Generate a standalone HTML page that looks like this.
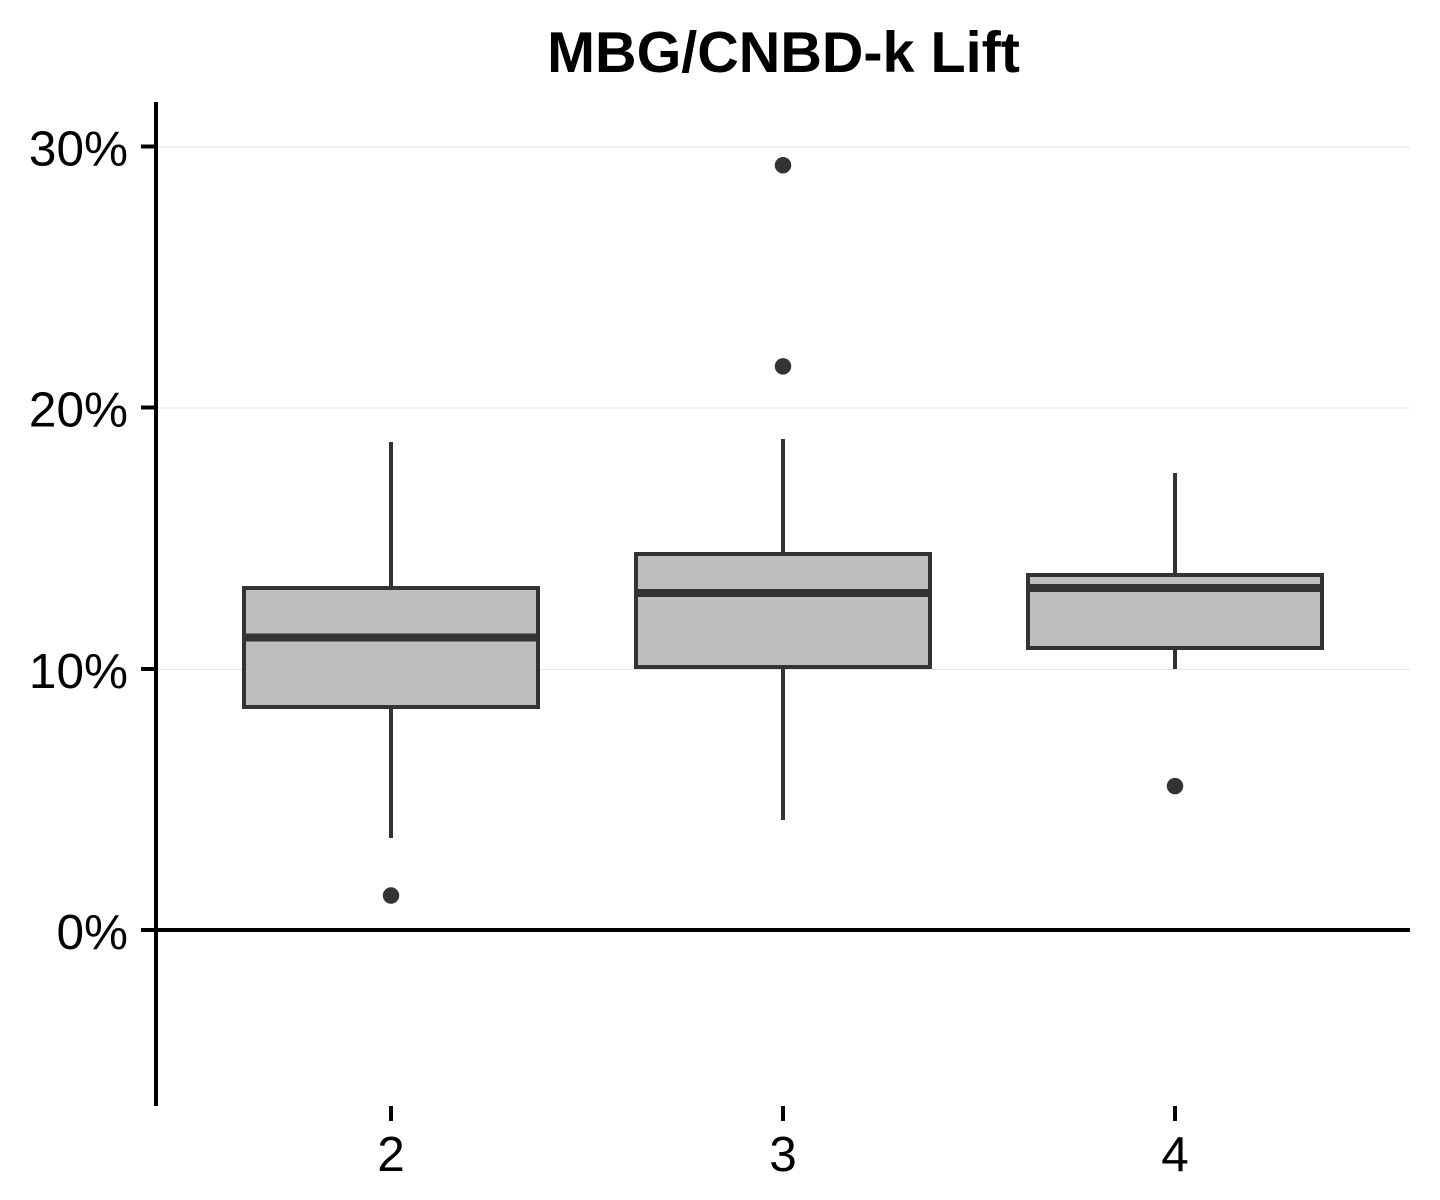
<!DOCTYPE html>
<html lang="en">
<head>
<meta charset="utf-8">
<title>MBG/CNBD-k Lift</title>
<style>
html,body{margin:0;padding:0;background:#fff;}
body{width:1440px;height:1200px;overflow:hidden;}
svg{display:block;font-family:"Liberation Sans",Arial,sans-serif;}
</style>
</head>
<body>
<svg id="chart" xmlns="http://www.w3.org/2000/svg" width="1440" height="1200" viewBox="0 0 1440 1200">
  <rect x="0" y="0" width="1440" height="1200" fill="#ffffff"/>
  <text x="783.5" y="72" font-size="57.5" font-weight="700" text-anchor="middle" fill="#000">MBG/CNBD-k Lift</text>
  <g id="grid"></g>
  <g id="marks"></g>
  <g id="axes"></g>
</svg>
<script>
const categories = ['2', '3', '4'];
const q1Values = [8.53, 10.07, 10.79];
const medianValues = [11.19, 12.9, 13.09];
const q3Values = [13.09, 14.39, 13.59];
const whiskerLowValues = [3.52, 4.21, 9.99];
const whiskerHighValues = [18.68, 18.79, 17.49];
const outlierValues = [[1.32], [29.28, 21.58], [5.51]];
const yTicks = [0, 10, 20, 30];
const yTickLabels = ['0%', '10%', '20%', '30%'];

const NS = 'http://www.w3.org/2000/svg';
const plotLeft = 156, plotRight = 1410, plotTop = 102, plotBottom = 1106;
const xFirst = 391, xStep = 392, boxHalf = 147;
function xScale(i) { return xFirst + i * xStep; }
function yScale(v) { return 930 - v * 26.12; }
function mk(parent, tag, attrs) {
  const el = document.createElementNS(NS, tag);
  for (const k in attrs) el.setAttribute(k, attrs[k]);
  parent.appendChild(el);
  return el;
}
const grid = document.getElementById('grid');
const marks = document.getElementById('marks');
const axes = document.getElementById('axes');
const boxColor = '#333333';
const crisp = 'crispEdges';

yTicks.forEach((t, i) => {
  if (t !== 0) {
    const g = mk(grid, 'line', {x1: plotLeft, x2: plotRight, y1: yScale(t) + 0.5, y2: yScale(t) + 0.5, stroke: '#e5e5e5', 'stroke-width': 1, 'shape-rendering': crisp});
    
    
  }
});

categories.forEach((c, i) => {
  const x = xScale(i);
  const group = mk(marks, 'g', {});
  
  

  const wu = mk(group, 'line', {x1: x, x2: x, y1: yScale(q3Values[i]), y2: yScale(whiskerHighValues[i]), stroke: boxColor, 'stroke-width': 4, 'shape-rendering': crisp});
  
  

  const wl = mk(group, 'line', {x1: x, x2: x, y1: yScale(q1Values[i]), y2: yScale(whiskerLowValues[i]), stroke: boxColor, 'stroke-width': 4, 'shape-rendering': crisp});
  
  

  const box = mk(group, 'rect', {x: x - boxHalf, y: yScale(q3Values[i]), width: boxHalf * 2, height: yScale(q1Values[i]) - yScale(q3Values[i]), fill: '#bebebe', stroke: boxColor, 'stroke-width': 4, 'shape-rendering': crisp});
  
  

  const med = mk(group, 'line', {x1: x - boxHalf, x2: x + boxHalf, y1: yScale(medianValues[i]), y2: yScale(medianValues[i]), stroke: boxColor, 'stroke-width': 8, 'shape-rendering': crisp});
  
  

  outlierValues[i].forEach((v) => {
    const p = mk(group, 'circle', {cx: x, cy: yScale(v), r: 8.25, fill: boxColor});
    
    
  });

  const tick = mk(axes, 'line', {x1: x, x2: x, y1: plotBottom, y2: plotBottom + 15, stroke: '#000', 'stroke-width': 4, 'shape-rendering': crisp});
  
  

  const lab = mk(axes, 'text', {x: x, y: 1171, 'font-size': 49.5, 'text-anchor': 'middle', fill: '#000'});
  lab.textContent = c;
  
  
});

const yAxis = mk(axes, 'line', {x1: plotLeft, x2: plotLeft, y1: plotTop, y2: plotBottom, stroke: '#000', 'stroke-width': 4, 'shape-rendering': crisp});



const zero = mk(axes, 'line', {x1: plotLeft, x2: plotRight, y1: yScale(0), y2: yScale(0), stroke: '#000', 'stroke-width': 4, 'shape-rendering': crisp});



yTicks.forEach((t, i) => {
  const tick = mk(axes, 'line', {x1: plotLeft - 15, x2: plotLeft, y1: yScale(t), y2: yScale(t), stroke: '#000', 'stroke-width': 4, 'shape-rendering': crisp});
  
  

  const lab = mk(axes, 'text', {x: 128, y: yScale(t) + 19, 'font-size': 49.5, 'text-anchor': 'end', fill: '#000'});
  lab.textContent = yTickLabels[i];
  
  
});
</script>
</body>
</html>
